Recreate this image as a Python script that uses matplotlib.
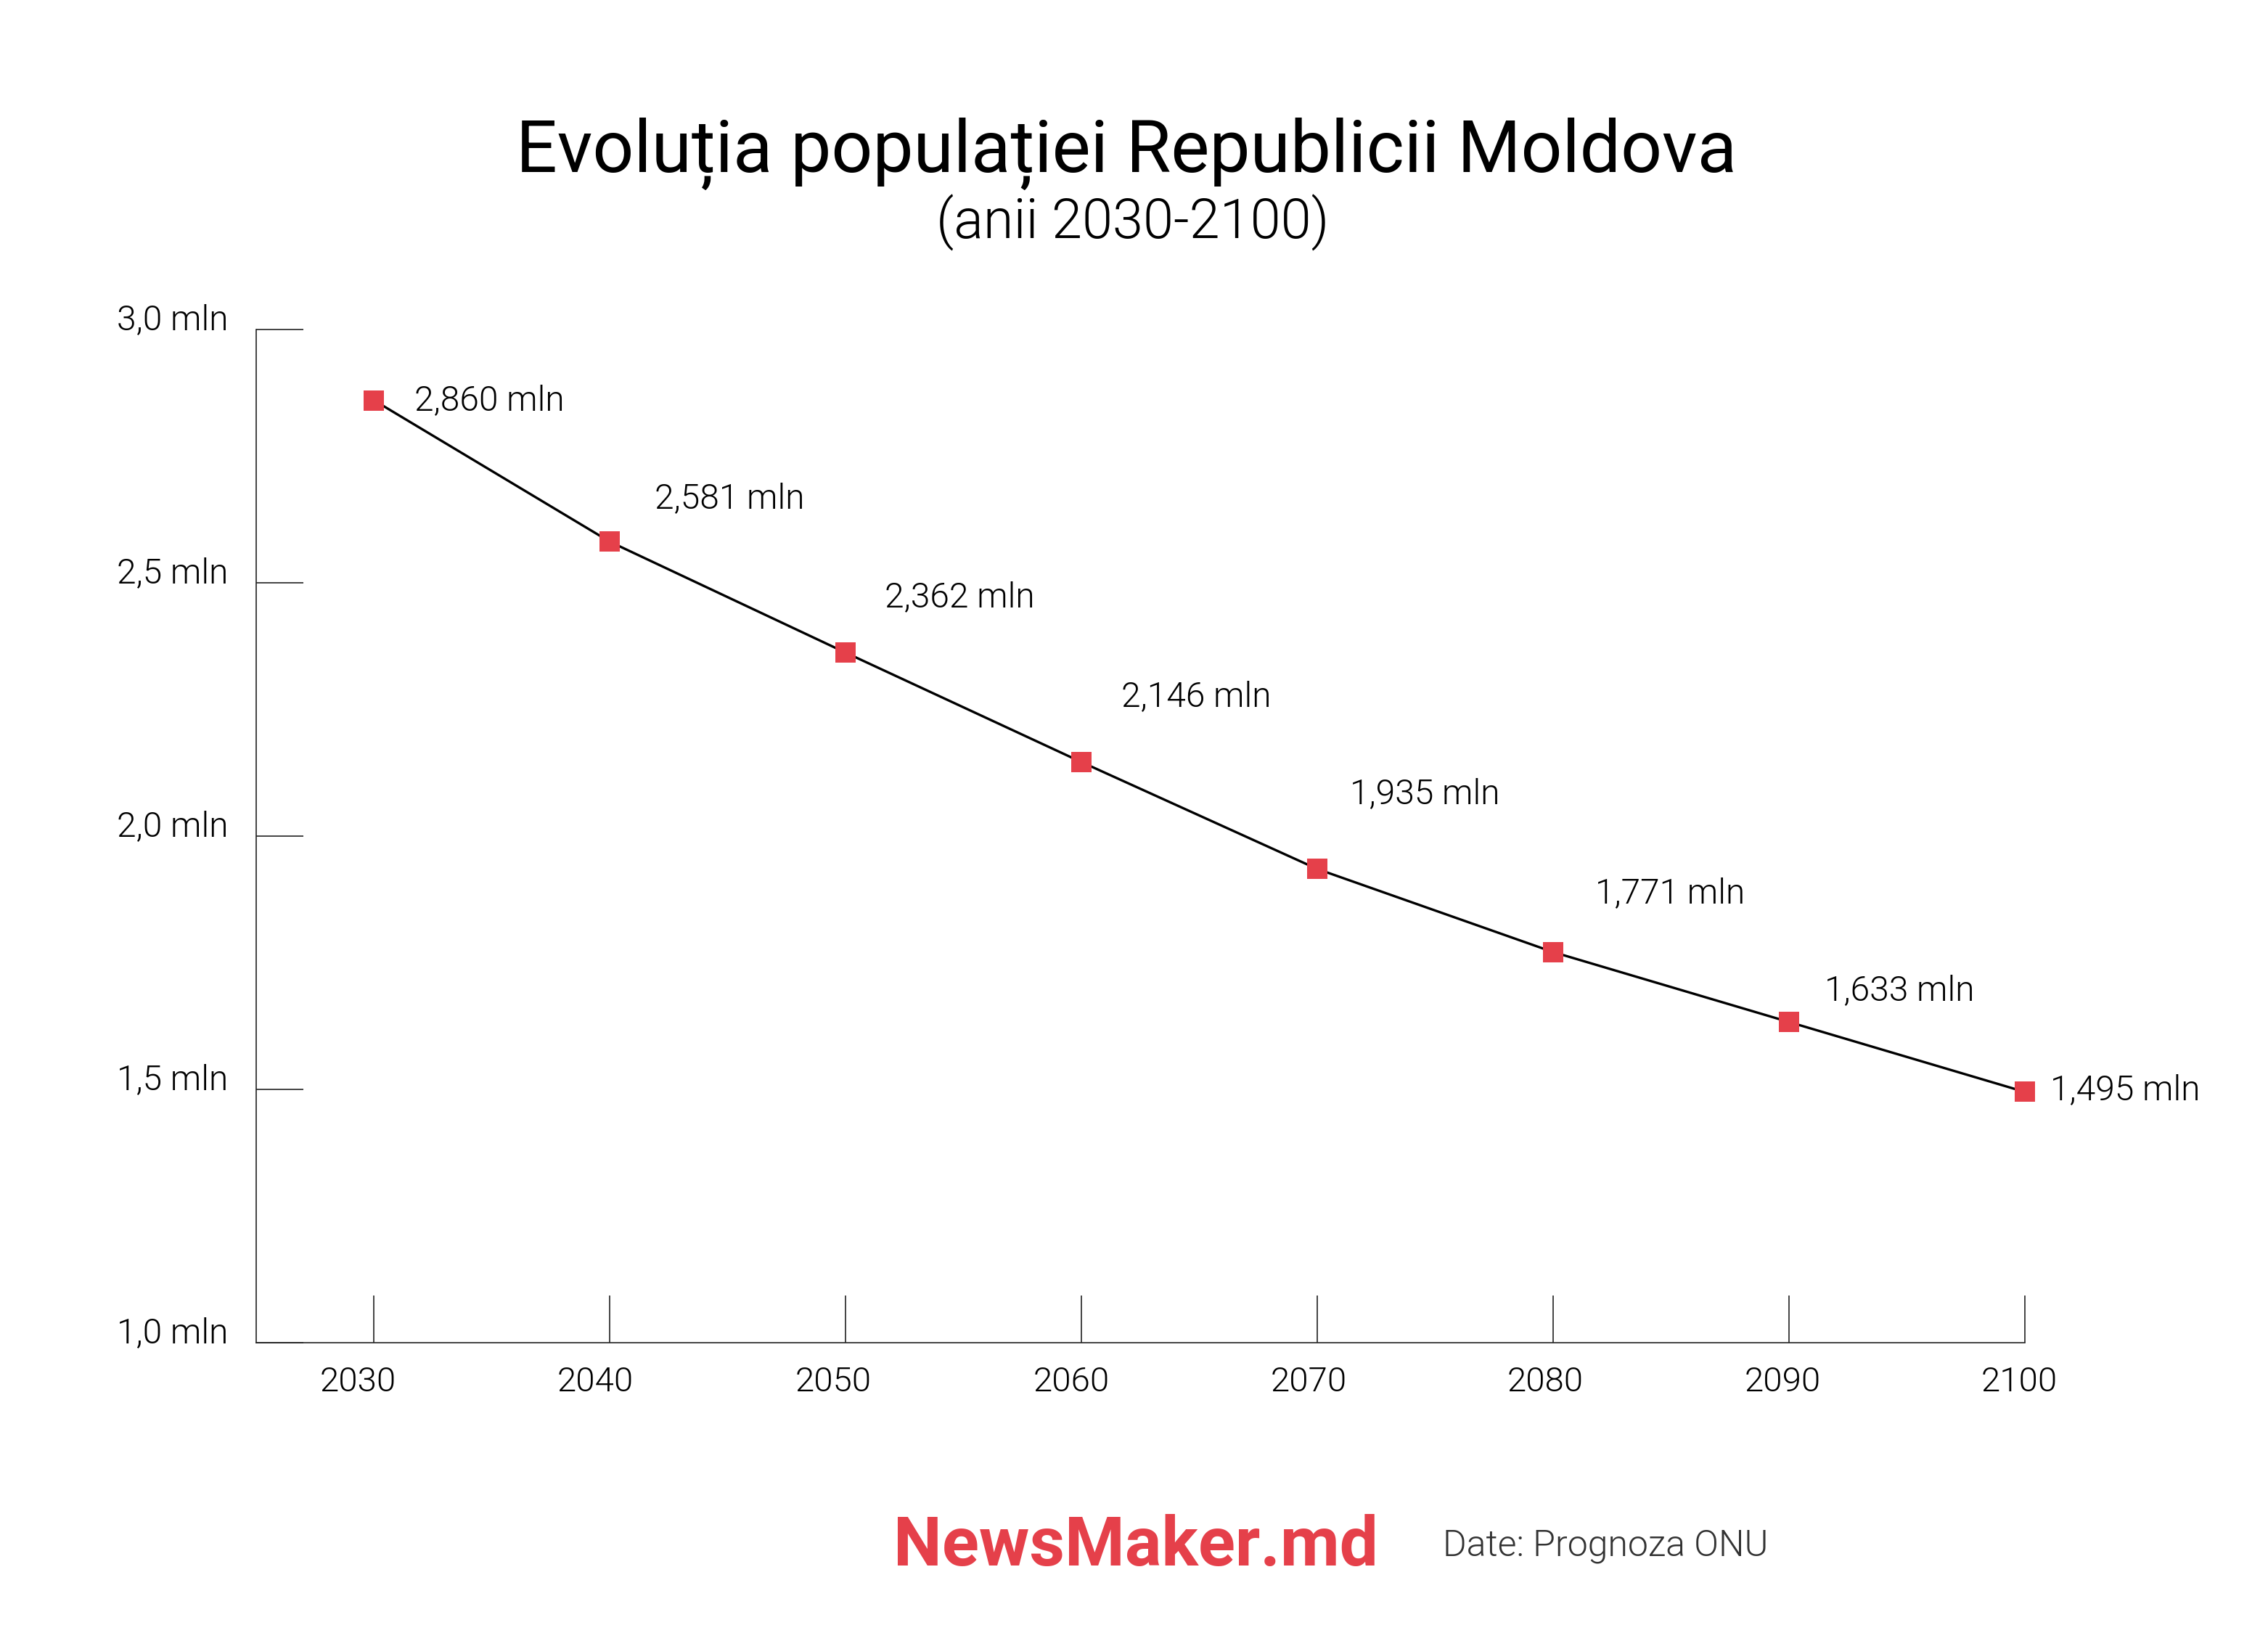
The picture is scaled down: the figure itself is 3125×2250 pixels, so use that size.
import matplotlib
matplotlib.use("Agg")
import matplotlib.pyplot as plt
from matplotlib.transforms import ScaledTranslation

years = [2030, 2040, 2050, 2060, 2070, 2080, 2090, 2100]
population = [2.860, 2.581, 2.362, 2.146, 1.935, 1.771, 1.633, 1.495]
value_labels = ["2,860 mln", "2,581 mln", "2,362 mln", "2,146 mln",
                "1,935 mln", "1,771 mln", "1,633 mln", "1,495 mln"]
y_ticks = [1.0, 1.5, 2.0, 2.5, 3.0]
y_tick_labels = ["1,0 mln", "1,5 mln", "2,0 mln", "2,5 mln", "3,0 mln"]
x_tick_labels = ["2030", "2040", "2050", "2060", "2070", "2080", "2090", "2100"]

title = "Evoluția populației Republicii Moldova"
subtitle = "(anii 2030-2100)"
brand = "NewsMaker.md"
source = "Date: Prognoza ONU"

# label offsets in pixels (dx, dy) relative to each point
label_offsets = [(56, 0), (62, 59), (54, 76), (55, 90), (45, 103), (58, 81), (49, 43), (35, 2)]
# horizontal shift of x tick labels in pixels
xlabel_shifts = [-22, -20, -17, -14, -12, -11, -9, -8]

RED = "#E5404A"
DPI = 100
LIGHT = 300
plt.rcParams['font.family'] = ['Roboto', 'DejaVu Sans']

fig = plt.figure(figsize=(31.25, 22.5), dpi=DPI, facecolor="white")
ax = fig.add_axes([353/3125, 1 - 1850/2250, (2790 - 353)/3125, (1850 - 454)/2250])

ax.plot(years, population, color="black", lw=2.4, zorder=2, clip_on=False)
ax.plot(years, population, ls="none", marker="s", ms=20, mfc=RED, mec=RED,
        mew=0, zorder=3, clip_on=False)

px = 72 / DPI
for x, y, lab, (dx, dy) in zip(years, population, value_labels, label_offsets):
    ax.annotate(lab, (x, y), xytext=(dx * px, dy * px), textcoords="offset points",
                ha="left", va="center", fontsize=34.5, fontweight=LIGHT,
                color="black", annotation_clip=False)

ax.set_xlim(2025, 2100)
ax.set_ylim(1.0, 3.0)

for s in ["top", "right"]:
    ax.spines[s].set_visible(False)
for s in ["left", "bottom"]:
    ax.spines[s].set_linewidth(1.2)
    ax.spines[s].set_color("#222222")

ax.set_xticks(years)
ax.set_xticklabels(x_tick_labels, fontsize=34, fontweight=LIGHT, color="black")
ax.set_yticks(y_ticks)
ax.set_yticklabels(y_tick_labels, fontsize=34.5, fontweight=LIGHT, color="black")
ax.tick_params(axis="both", direction="in", length=47, width=1.2, color="#222222")
ax.tick_params(axis="x", pad=23)
ax.tick_params(axis="y", pad=28)

for lbl in ax.get_yticklabels():
    lbl.set_va("baseline")
for lbl, sh in zip(ax.get_xticklabels(), xlabel_shifts):
    lbl.set_transform(lbl.get_transform() + ScaledTranslation(sh / DPI, 0, fig.dpi_scale_trans))

fig.text(0.4967, 1 - 237/2250, title, ha="center", va="baseline",
         fontsize=72, color="black")
fig.text(0.4995, 1 - 329/2250, subtitle, ha="center", va="baseline",
         fontsize=54.5, fontweight=LIGHT, color="black")
fig.text(1231/3125, 1 - 2157/2250, brand, ha="left", va="baseline",
         fontsize=68, fontweight="bold", color=RED)
fig.text(1988/3125, 1 - 2143/2250, source, ha="left", va="baseline",
         fontsize=36, fontweight=LIGHT, color="#333333")

fig.savefig("out.png", dpi=DPI, facecolor="white")
